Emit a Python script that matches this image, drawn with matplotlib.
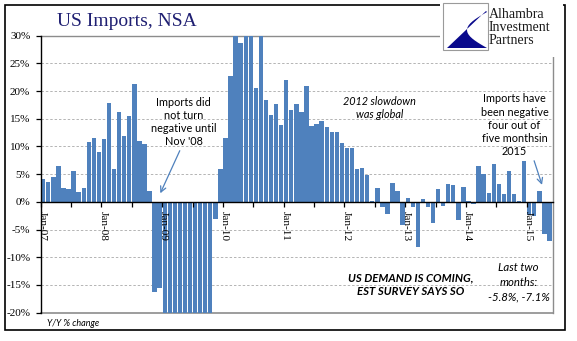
import matplotlib
matplotlib.use("Agg")
import matplotlib.pyplot as plt
from matplotlib.patches import Rectangle, Polygon
from matplotlib.transforms import ScaledTranslation
import numpy as np

# Year-over-year change in US imports (not seasonally adjusted), monthly, %
y2007 = [4.1, 3.6, 4.5, 6.5, 2.5, 2.3, 5.6, 1.8, 2.5, 10.8, 11.5, 9.0]
y2008 = [11.3, 17.8, 6.0, 16.2, 11.9, 15.5, 21.2, 11.0, 10.4, 2.0, -16.2, -15.5]
y2009 = [-23.5, -29.8, -27.6, -31.5, -34.0, -32.1, -29.5, -28.0, -24.3, -21.5, -3.0, 6.0]
y2010 = [11.5, 22.7, 33.0, 28.7, 31.5, 32.0, 20.5, 30.8, 18.4, 15.7, 17.6, 13.9]
y2011 = [22.0, 16.6, 17.6, 16.2, 20.9, 13.7, 14.0, 14.6, 13.5, 12.6, 12.6, 10.6]
y2012 = [9.7, 9.7, 5.9, 6.1, 4.9, 0.1, 2.5, -0.9, -2.2, 3.4, 2.0, -4.2]
y2013 = [0.7, -0.9, -8.1, 0.5, -0.9, -3.8, 2.3, -0.7, 3.2, 3.1, -3.2, 2.7]
y2014 = [0.2, -0.4, 6.4, 5.1, 1.6, 6.8, 3.2, 1.5, 5.6, 1.5, 0.1, 7.4]
y2015 = [-2.4, -2.6, 2.0, -5.8, -7.1]

values = np.array(y2007 + y2008 + y2009 + y2010 + y2011 + y2012 + y2013 + y2014 + y2015)
year_labels = ["Jan-07", "Jan-08", "Jan-09", "Jan-10", "Jan-11",
               "Jan-12", "Jan-13", "Jan-14", "Jan-15"]
y_ticks = [-20, -15, -10, -5, 0, 5, 10, 15, 20, 25, 30]

BAR = "#4F81BD"
W, H = 577, 341
serif = "Liberation Serif"
sans = "Lato"

fig = plt.figure(figsize=(W / 100, H / 100), dpi=100)
fig.patch.set_facecolor("white")

ax = fig.add_axes([40.7 / W, 1 - 312.7 / H, (553 - 40.7) / W, (312.7 - 35.7) / H])
months = np.arange(len(values))
ax.bar(months, values, width=0.86, color=BAR, zorder=2)

ax.set_xlim(-0.5, 100.7)
ax.set_ylim(-20, 30)

# y axis
ax.set_yticks(y_ticks)
ax.set_yticklabels([f"{t}%" for t in y_ticks], fontfamily=serif, fontsize=8)
ax.tick_params(axis="y", direction="out", length=3.5, width=0.9, pad=4, colors="black")

# x axis sits on the zero line; ticks every six months, labels each January
ax.spines["bottom"].set_position(("data", 0))
ax.spines["bottom"].set_color("black")
ax.spines["bottom"].set_linewidth(1.0)
ax.spines["bottom"].set_zorder(4)
ax.set_xticks(np.arange(0, len(values), 12) - 0.5)
ax.set_xticklabels(year_labels, rotation=-90, fontfamily=serif, fontsize=8.2,
                   ha="center", va="top")
ax.set_xticks(np.arange(6, len(values), 12) - 0.5, minor=True)
ax.tick_params(axis="x", which="both", direction="out", length=3.5, width=0.9, pad=3)
shift = ScaledTranslation(1.5 / 100, 0, fig.dpi_scale_trans)
for lab in ax.get_xticklabels():
    lab.set_transform(lab.get_transform() + shift)
ax.xaxis.set_zorder(5)
ax.yaxis.set_zorder(5)

ax.spines["left"].set_color("black")
ax.spines["left"].set_linewidth(1.0)
for side in ("top", "right"):
    ax.spines[side].set_color("#8c8c8c")
    ax.spines[side].set_linewidth(1.0)
ax.spines["top"].set_zorder(1)
ax.axhline(-20, color="#8c8c8c", lw=1.2, zorder=1, clip_on=False)

for t in y_ticks[1:-1]:
    if t != 0:
        ax.axhline(t, color="#b4b4b4", lw=0.7, ls=(0, (2.5, 2)), zorder=1)

# annotations
ax.text(27.7, 14.4, "Imports did\nnot turn\nnegative until\nNov '08", ha="center",
        va="center", fontfamily=sans, fontsize=7.8, linespacing=1.25, zorder=6)
ax.annotate("", xy=(22.9, 1.1), xytext=(27.2, 9.7),
            arrowprops=dict(arrowstyle="->", color=BAR, lw=0.9), zorder=6)

ax.text(66.4, 17.0, "2012 slowdown\nwas global", ha="center", va="center",
        fontfamily=sans, fontstyle="italic", fontsize=7.8, linespacing=1.25, zorder=6)

ax.text(93.1, 13.8, "Imports have\nbeen negative\nfour out of\nfive monthsin\n2015",
        ha="center", va="center", fontfamily=sans, fontsize=7.8, linespacing=1.25,
        zorder=6)
ax.annotate("", xy=(98.7, 2.6), xytext=(96.8, 7.9),
            arrowprops=dict(arrowstyle="->", color=BAR, lw=0.9), zorder=6)

ax.text(72.5, -15.0, "US DEMAND IS COMING,\nEST SURVEY SAYS SO", ha="center",
        va="center", fontfamily=sans, fontstyle="italic", fontweight="bold",
        fontsize=8.2, linespacing=1.3, zorder=6)

ax.text(93.9, -14.5, "Last two\nmonths:\n-5.8%, -7.1%", ha="center", va="center",
        fontfamily=sans, fontstyle="italic", fontsize=8.2, linespacing=1.45, zorder=6)

fig.text(46.7 / W, 1 - 323 / H, "Y/Y % change", ha="left", va="center",
         fontfamily=sans, fontstyle="italic", fontsize=6.5)

# title
fig.text(57 / W, 1 - 26 / H, "US Imports, NSA", ha="left", va="baseline",
         fontfamily=serif, fontsize=14, color="#1f1f72")

# outer frame
fig.add_artist(Rectangle((5 / W, 1 - 330 / H), 560 / W, 325 / H,
                         transform=fig.transFigure, fill=False, ec="black", lw=1.2))

# logo block
fig.add_artist(Rectangle((440 / W, 1 - 57 / H), 123 / W, 57 / H,
                         transform=fig.transFigure, fc="white", ec="none", zorder=6))
fig.add_artist(Rectangle((443 / W, 1 - 50 / H), 45 / W, 47 / H,
                         transform=fig.transFigure, fc="white", ec="#9a9a9a",
                         lw=0.8, zorder=7))
tt = np.linspace(0, 1, 20)
curve = [(487 - 20 * np.sin(np.pi * s), 12 + 36 * s) for s in tt]
swoosh = [(486, 11), (447, 48), (487, 48)] + curve[::-1]
swoosh_fig = [(px / W, 1 - py / H) for px, py in swoosh]
fig.add_artist(Polygon(swoosh_fig, closed=True, transform=fig.transFigure,
                       fc="#0a0a8c", ec="none", zorder=8))
for i, word in enumerate(["Alhambra", "Investment", "Partners"]):
    fig.text(489 / W, 1 - (18 + 13 * i) / H, word, ha="left", va="baseline",
             fontfamily=serif, fontsize=10, color="#1a1a1a", zorder=9)

fig.savefig("out.png", dpi=100, facecolor="white")
